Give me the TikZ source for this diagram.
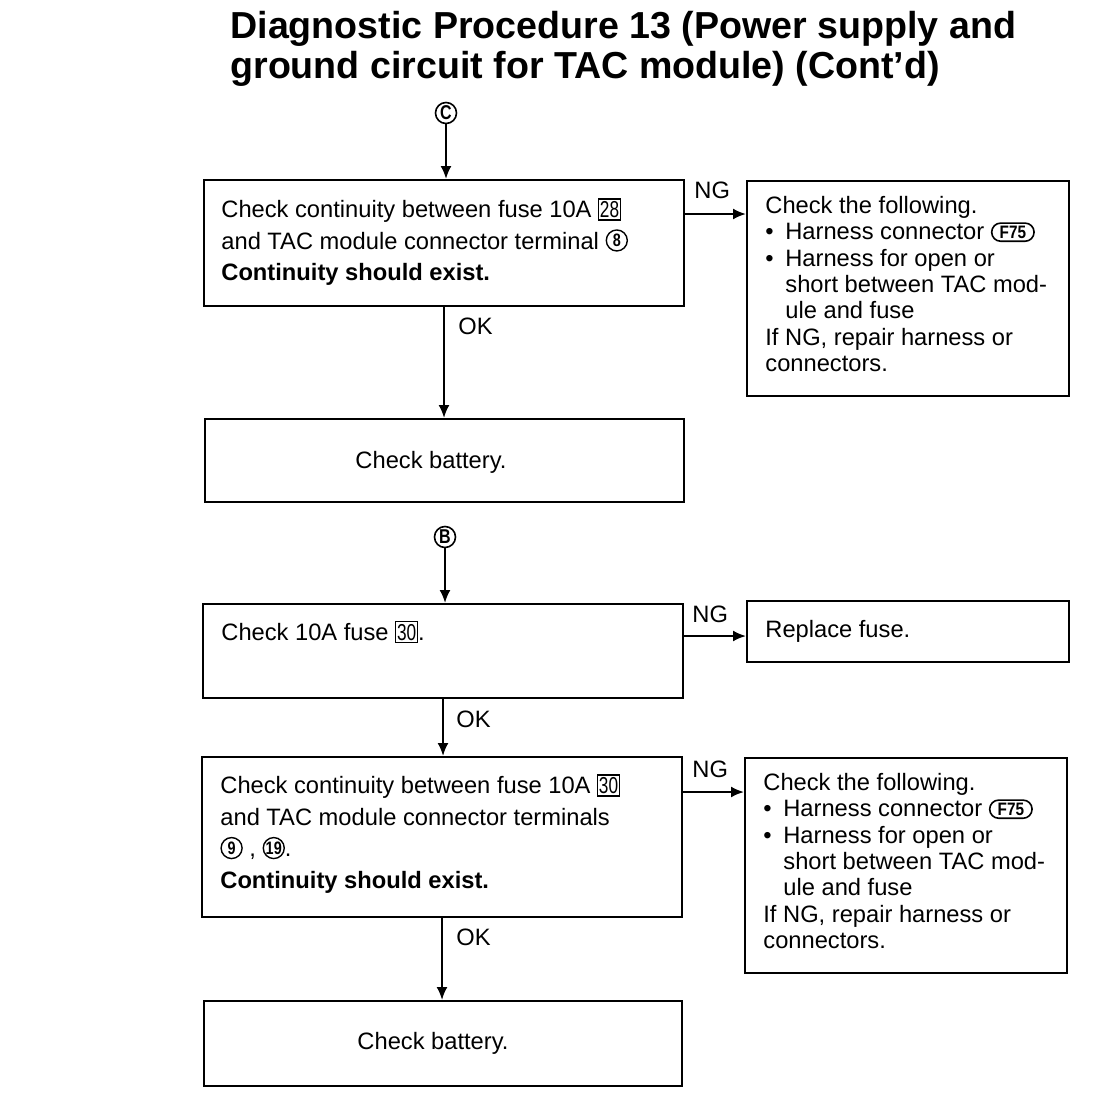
\documentclass[tikz,border=0pt]{standalone}
\usepackage{fontspec}
\setmainfont{Liberation Sans}
\usetikzlibrary{arrows.meta,calc}
\newcommand\cnum[1]{\tikz[baseline={([yshift=-1.2pt]cn.base)}]\node[draw,circle,line width=0.7pt,inner sep=0pt,minimum size=10.5pt,font=\bfseries\fontsize{9}{9}\selectfont] (cn) {\scalebox{0.8}[1]{#1}};}
\newcommand\bnum[1]{\tikz[baseline=(bn.base)]\node[draw,line width=0.6pt,inner xsep=0.6pt,inner ysep=1.2pt,font=\fontsize{11.5}{11.5}\selectfont] (bn) {\scalebox{0.75}[1]{#1}};}
\newcommand\conn[1]{\tikz[baseline={([yshift=-0.8pt]cx.base)}]\node[draw,rounded corners=4.5pt,line width=0.8pt,inner xsep=4pt,inner ysep=1.4pt,font=\bfseries\fontsize{9}{9}\selectfont] (cx) {\scalebox{0.85}[1]{#1}};}
\newcommand\bul{\makebox[10pt][l]{•}}
\begin{document}
\begin{tikzpicture}[x=0.5pt,y=-0.5pt,
  box/.style={draw,line width=1pt,rectangle,inner sep=0pt},
  body/.style={anchor=north west,inner sep=0pt,align=left,font=\fontsize{11.85}{15.8}\selectfont},
  side/.style={anchor=north west,inner sep=0pt,align=left,font=\fontsize{11.85}{13.15}\selectfont},
  lab/.style={anchor=base west,inner sep=0pt,font=\fontsize{11.85}{13}\selectfont},
  arr/.style={line width=1pt,-{Latex[length=6.5pt,width=5.5pt]}},
  conc/.style={draw,circle,line width=0.8pt,inner sep=0pt,minimum size=10.5pt,font=\bfseries\fontsize{10}{10}\selectfont}]
\useasboundingbox (0,0) rectangle (1120,1108);
% title
\node[anchor=north west,inner sep=0pt,align=left,font=\bfseries\fontsize{18.8}{20}\selectfont] (title) at (230,11)
  {Diagnostic Procedure 13 (Power supply and\\ground circuit for TAC module) (Cont'd)};
% connectors
\node[conc] (C) at (446,113) {\scalebox{0.8}[1]{C}};
\node[conc] (B) at (445,537) {\scalebox{0.8}[1]{B}};
% boxes
\node[box,minimum width=240pt,minimum height=63pt] (b1) at (444,243) {};
\node[box,minimum width=161pt,minimum height=107.5pt] (b2) at (908,288.5) {};
\node[box,minimum width=239.5pt,minimum height=41.5pt] (b3) at (444.5,460.5) {};
\node[box,minimum width=240pt,minimum height=47pt] (b4) at (443,651) {};
\node[box,minimum width=161pt,minimum height=30.5pt] (b5) at (908,631.5) {};
\node[box,minimum width=240pt,minimum height=80pt] (b6) at (442,837) {};
\node[box,minimum width=161pt,minimum height=107.5pt] (b7) at (906,865.5) {};
\node[box,minimum width=239pt,minimum height=42.5pt] (b8) at (443,1043.5) {};
% texts
\node[body] (t1) at (221,198) {Check continuity between fuse 10A \bnum{28}\\and TAC module connector terminal \cnum{8}\\\textbf{Continuity should exist.}};
\node[side] (t2) at (765,196) {Check the following.\\\bul Harness connector \conn{F75}\\\bul Harness for open or\\\hspace*{10pt}short between TAC mod-\\\hspace*{10pt}ule and fuse\\If NG, repair harness or\\connectors.};
\node[lab,anchor=base] (t3) at (431,468) {Check battery.};
\node[lab] (t4) at (221,640) {Check 10A fuse \bnum{30}.};
\node[lab] (t5) at (765,637) {Replace fuse.};
\node[body] (t6) at (220,774) {Check continuity between fuse 10A \bnum{30}\\and TAC module connector terminals\\\cnum{9} , \cnum{19}.\\\textbf{Continuity should exist.}};
\node[side] (t7) at (763,773) {Check the following.\\\bul Harness connector \conn{F75}\\\bul Harness for open or\\\hspace*{10pt}short between TAC mod-\\\hspace*{10pt}ule and fuse\\If NG, repair harness or\\connectors.};
\node[lab,anchor=base] (t8) at (433,1049) {Check battery.};
% flow arrows
\draw[arr] (C) -- (C |- b1.north);
\draw[arr] (b1.south) -- (b1.south |- b3.north);
\draw[arr] (B) -- (B |- b4.north);
\draw[arr] (b4.south) -- (b4.south |- b6.north);
\draw[arr] (b6.south) -- (b6.south |- b8.north);
\coordinate (n1) at ([yshift=-17.5pt]b1.north east);
\coordinate (n2) at ([yshift=-16.5pt]b4.north east);
\coordinate (n3) at ([yshift=-18pt]b6.north east);
\draw[arr] (n1) -- (n1 -| b2.west);
\draw[arr] (n2) -- (n2 -| b5.west);
\draw[arr] (n3) -- (n3 -| b7.west);
% labels
\node[lab] (ng1) at (694,198) {NG};
\node[lab] (ok1) at (458,334) {OK};
\node[lab] (ng2) at (692,622) {NG};
\node[lab] (ok2) at (456,727) {OK};
\node[lab] (ng3) at (692,777) {NG};
\node[lab] (ok3) at (456,945) {OK};
\end{tikzpicture}
\end{document}
